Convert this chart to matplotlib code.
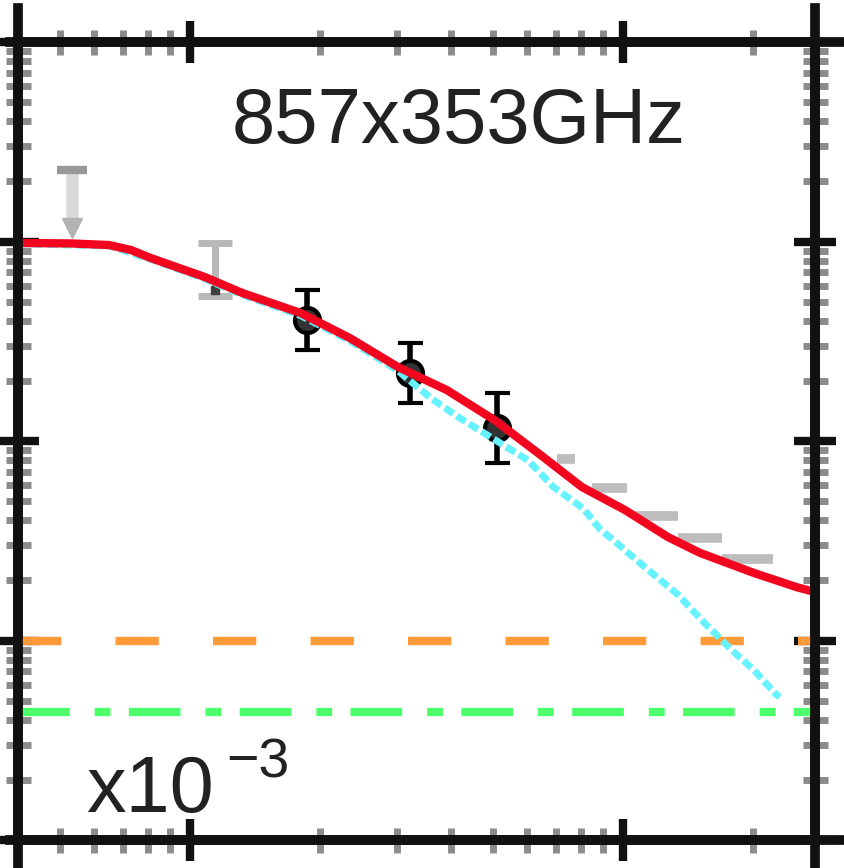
import matplotlib.pyplot as plt
from matplotlib.lines import Line2D

plt.rcParams['font.family'] = ['Liberation Sans', 'DejaVu Sans']

# modelo total (linea roja)
ell_modelo = [40, 53, 65, 73, 81, 108, 132, 180, 234, 302, 392, 506, 637, 804, 1011, 1271, 1507, 2009, 2523, 2780]
cl_modelo = [983, 978, 960, 906, 827, 664, 552, 438, 328, 235, 180, 127, 87, 58.8, 45.1, 33.0, 27.5, 21.8, 18.5, 17.5]

# segundo modelo (linea cian punteada)
ell_cian = [40, 65, 81, 108, 132, 180, 234, 302, 360, 416, 604, 690, 809, 885, 968, 1016, 1161, 1340, 1546, 1785, 2009, 2245, 2305]
cl_cian = [975, 950, 815, 650, 540, 425, 318, 225, 164, 132, 80, 59, 46, 36.2, 30.8, 28.1, 22.0, 17.0, 12.2, 8.96, 7.11, 5.45, 5.2]

# niveles constantes
nivel_naranja = 10.0
nivel_verde = 4.4

# datos (puntos negros)
ell_datos = [186, 322, 512]
cl_datos = [404, 219, 116]
err_abajo = [118, 64, 38.4]
err_arriba = [167, 91, 58]

# datos grises
ell_limite = [53.4]
cl_limite = [2281]
cl_limite_punta = [1169]

ell_gris = [114]
cl_gris = [571]
gris_abajo = [40]
gris_arriba = [412]

bin_lo = [705, 847, 1067, 1340, 1694]
bin_hi = [774, 1021, 1340, 1694, 2218]
cl_bin = [81, 58.1, 42.1, 32.6, 25.6]

fig = plt.figure(figsize=(8.44, 8.68), dpi=100)
ax = fig.add_axes([18 / 844, 1 - 840 / 868, (815 - 18) / 844, (840 - 42) / 868])

ax.set_xscale('log')
ax.set_yscale('log')

# grises
ax.hlines(cl_bin, bin_lo, bin_hi, color='0.74', lw=7, zorder=1)
ax.vlines(ell_limite, cl_limite_punta, cl_limite, color='0.85', lw=9, zorder=1)
ax.plot(ell_limite, cl_limite, ls='none', marker='_', ms=22, mew=6, color='0.6', zorder=1)
ax.plot(ell_limite, cl_limite_punta, ls='none', marker='v', ms=14, color='0.7', zorder=1)
ax.errorbar(ell_gris, cl_gris, yerr=[gris_abajo, gris_arriba], fmt='s', ms=6, color='0.25',
            ecolor='0.72', elinewidth=5, capsize=12, capthick=5, zorder=1)

# puntos negros
ax.errorbar(ell_datos, cl_datos, yerr=[err_abajo, err_arriba], fmt='o', ms=18, mfc='#333333',
            mec='black', mew=3, ecolor='black', elinewidth=4, capsize=9, capthick=4, zorder=2)

# lineas horizontales
ax.axhline(nivel_naranja, color='#FF9A38', lw=6, dashes=(5.2, 6.5), zorder=3)
ax.axhline(nivel_verde, color='#4DFF6A', lw=6, dashes=(6.2, 3, 1.9, 2.2), zorder=3)

# modelos
ax.plot(ell_cian, cl_cian, color='#66F2FF', lw=5, dashes=(1.5, 0.6), zorder=4)
ax.plot(ell_modelo, cl_modelo, color='#F2061F', lw=6, zorder=5)

ax.set_xlim(40, 2780)
ax.set_ylim(1, 1e4)

ax.tick_params(which='major', direction='inout', length=30, width=6, color='#111111',
               top=True, right=True, labelbottom=False, labelleft=False)
ax.tick_params(which='minor', direction='inout', length=18, width=5, color='0.55',
               top=True, right=True, labelbottom=False, labelleft=False)
for s in ax.spines.values():
    s.set_linewidth(7)
    s.set_color('#111111')

# el marco sigue hacia los paneles vecinos
for xx in [18 / 844, 815 / 844]:
    fig.add_artist(Line2D([xx, xx], [0, 1 - 8 / 868], color='#111111', lw=7, transform=fig.transFigure))
for yy in [1 - 42 / 868, 1 - 840 / 868]:
    fig.add_artist(Line2D([10 / 844, 1], [yy, yy], color='#111111', lw=7, transform=fig.transFigure))

fig.text(459 / 844, 1 - 122 / 868, '857x353GHz', ha='center', va='center', fontsize=56, color='#222222')
fig.text(86 / 844, 1 - 812 / 868, 'x10', ha='left', va='baseline', fontsize=57, color='#222222')
fig.text(226 / 844, 1 - 777 / 868, '\u22123', ha='left', va='baseline', fontsize=40, color='#222222')

fig.savefig('out.png', dpi=100)
